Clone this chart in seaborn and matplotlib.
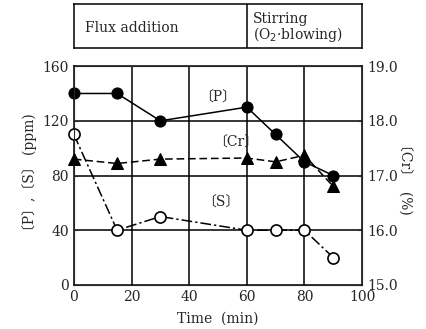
import matplotlib
matplotlib.use('Agg')
import matplotlib.pyplot as plt
import seaborn as sns
import pandas as pd

# -- data --
time_p  = [0, 15, 30, 60, 70, 80, 90]
p_ppm   = [140, 140, 120, 130, 110, 90, 80]
time_s  = [0, 15, 30, 60, 70, 80, 90]
s_ppm   = [110, 40, 50, 40, 40, 40, 20]
time_cr = [0, 15, 30, 60, 70, 80, 90]
cr_pct  = [17.3, 17.22, 17.3, 17.32, 17.25, 17.37, 16.8]

x_ticks  = [0, 20, 40, 60, 80, 100]
y_ticks  = [0, 40, 80, 120, 160]
y2_ticks = [15.0, 16.0, 17.0, 18.0, 19.0]

FONT = ['DejaVu Serif', 'Noto Sans CJK JP']

sns.set_style('white')
plt.rcParams['font.family'] = FONT
plt.rcParams['axes.unicode_minus'] = False

df_p  = pd.DataFrame({'t': time_p, 'v': p_ppm})
df_s  = pd.DataFrame({'t': time_s, 'v': s_ppm})
df_cr = pd.DataFrame({'t': time_cr, 'v': cr_pct})

fig = plt.figure(figsize=(4.27, 3.29), dpi=100)
ax = fig.add_axes([0.173, 0.134, 0.675, 0.665])

# grid
for xv in x_ticks[1:-1]:
    ax.axvline(xv, color='black', lw=1.1, zorder=0)
for yv in y_ticks[1:-1]:
    ax.axhline(yv, color='black', lw=1.1, zorder=0)

sns.lineplot(data=df_p, x='t', y='v', ax=ax, color='black', lw=1.1,
             marker='o', markersize=8, markerfacecolor='black',
             markeredgecolor='black', zorder=3, clip_on=False)
sns.lineplot(data=df_s, x='t', y='v', ax=ax, color='black', lw=1.1,
             linestyle=(0, (7, 2, 1.5, 2)), marker='o', markersize=8,
             markerfacecolor='white', markeredgecolor='black',
             markeredgewidth=1.2, zorder=3, clip_on=False)

ax.set_xlim(0, 100)
ax.set_ylim(0, 160)
ax.set_xticks(x_ticks)
ax.set_yticks(y_ticks)
ax.tick_params(labelsize=10, length=3, direction='in')
ax.set_ylabel('〔P〕,〔S〕 (ppm)', fontsize=10, labelpad=4)
for sp in ax.spines.values():
    sp.set_color('black')
    sp.set_linewidth(1.1)

ax2 = ax.twinx()
sns.lineplot(data=df_cr, x='t', y='v', ax=ax2, color='black', lw=1.1,
             linestyle=(0, (5, 2.5)), marker='^', markersize=8,
             markerfacecolor='black', markeredgecolor='black', zorder=3,
             clip_on=False)
ax2.set_ylim(15, 19)
ax2.set_yticks(y2_ticks)
ax2.set_yticklabels([f'{v:.1f}' for v in y2_ticks])
ax2.tick_params(labelsize=10, length=3, direction='in')
ax2.set_ylabel('〔Cr〕  (%)', fontsize=10, rotation=270, labelpad=10)
ax2.set_xlabel('')
ax.set_xlabel('Time  (min)', fontsize=10, labelpad=6)

# series labels
ax.text(50, 137, '〔P〕', fontsize=10, ha='center', va='center')
ax.text(56, 104, '〔Cr〕', fontsize=10, ha='center', va='center')
ax.text(51, 60, '〔S〕', fontsize=10, ha='center', va='center')

# header box
hx = fig.add_axes([0.173, 0.854, 0.675, 0.134])
hx.set_xlim(0, 100)
hx.set_ylim(0, 1)
hx.set_xticks([])
hx.set_yticks([])
for sp in hx.spines.values():
    sp.set_color('black')
    sp.set_linewidth(1.1)
hx.axvline(60, color='black', lw=1.1)
hx.text(4, 0.45, 'Flux addition', fontsize=10, ha='left', va='center')
hx.text(62, 0.45, 'Stirring\n(O$_2$·blowing)', fontsize=10, ha='left',
        va='center', linespacing=0.95)

fig.savefig('out.png', dpi=100)
